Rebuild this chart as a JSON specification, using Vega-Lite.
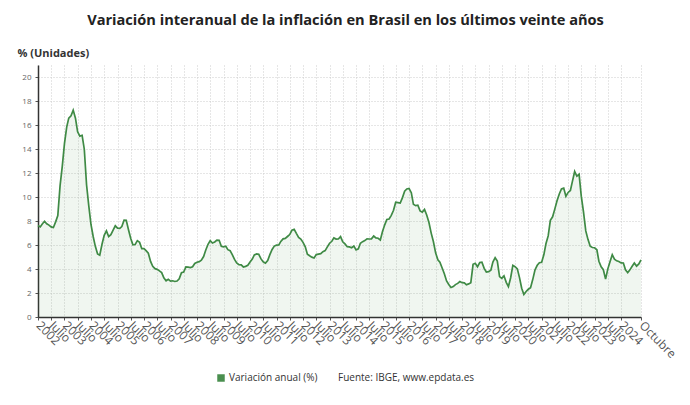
{
  "$schema": "https://vega.github.io/schema/vega-lite/v6.json",
  "width": 603,
  "height": 252,
  "autosize": {"type": "none"},
  "padding": {"left": 38, "top": 65, "right": 49, "bottom": 88},
  "background": "white",
  "title": {
    "text": "Variación interanual de la inflación en Brasil en los últimos veinte años",
    "font": "Open Sans",
    "fontSize": 14.6,
    "fontWeight": "bold",
    "color": "#222222",
    "anchor": "middle",
    "dx": 6,
    "offset": 19
  },
  "config": {
    "view": {"stroke": null},
    "font": "Open Sans"
  },
  "data": {
    "values": [
      {"d":"2002-01-01","v":7.62},{"d":"2002-02-01","v":7.51},{"d":"2002-03-01","v":7.75},{"d":"2002-04-01","v":7.98},{"d":"2002-05-01","v":7.77},{"d":"2002-06-01","v":7.66},{"d":"2002-07-01","v":7.51},{"d":"2002-08-01","v":7.46},{"d":"2002-09-01","v":7.93},{"d":"2002-10-01","v":8.45},{"d":"2002-11-01","v":10.93},{"d":"2002-12-01","v":12.53},
      {"d":"2003-01-01","v":14.47},{"d":"2003-02-01","v":15.85},{"d":"2003-03-01","v":16.57},{"d":"2003-04-01","v":16.77},{"d":"2003-05-01","v":17.24},{"d":"2003-06-01","v":16.57},{"d":"2003-07-01","v":15.43},{"d":"2003-08-01","v":15.07},{"d":"2003-09-01","v":15.14},{"d":"2003-10-01","v":13.98},{"d":"2003-11-01","v":11.02},{"d":"2003-12-01","v":9.30},
      {"d":"2004-01-01","v":7.71},{"d":"2004-02-01","v":6.69},{"d":"2004-03-01","v":5.89},{"d":"2004-04-01","v":5.26},{"d":"2004-05-01","v":5.15},{"d":"2004-06-01","v":6.06},{"d":"2004-07-01","v":6.81},{"d":"2004-08-01","v":7.18},{"d":"2004-09-01","v":6.71},{"d":"2004-10-01","v":6.86},{"d":"2004-11-01","v":7.24},{"d":"2004-12-01","v":7.60},
      {"d":"2005-01-01","v":7.41},{"d":"2005-02-01","v":7.39},{"d":"2005-03-01","v":7.54},{"d":"2005-04-01","v":8.07},{"d":"2005-05-01","v":8.05},{"d":"2005-06-01","v":7.27},{"d":"2005-07-01","v":6.57},{"d":"2005-08-01","v":6.02},{"d":"2005-09-01","v":6.04},{"d":"2005-10-01","v":6.36},{"d":"2005-11-01","v":6.22},{"d":"2005-12-01","v":5.69},
      {"d":"2006-01-01","v":5.70},{"d":"2006-02-01","v":5.51},{"d":"2006-03-01","v":5.32},{"d":"2006-04-01","v":4.63},{"d":"2006-05-01","v":4.23},{"d":"2006-06-01","v":4.03},{"d":"2006-07-01","v":3.97},{"d":"2006-08-01","v":3.84},{"d":"2006-09-01","v":3.70},{"d":"2006-10-01","v":3.26},{"d":"2006-11-01","v":3.02},{"d":"2006-12-01","v":3.14},
      {"d":"2007-01-01","v":2.99},{"d":"2007-02-01","v":3.02},{"d":"2007-03-01","v":2.96},{"d":"2007-04-01","v":3.00},{"d":"2007-05-01","v":3.18},{"d":"2007-06-01","v":3.69},{"d":"2007-07-01","v":3.74},{"d":"2007-08-01","v":4.18},{"d":"2007-09-01","v":4.15},{"d":"2007-10-01","v":4.12},{"d":"2007-11-01","v":4.19},{"d":"2007-12-01","v":4.46},
      {"d":"2008-01-01","v":4.56},{"d":"2008-02-01","v":4.61},{"d":"2008-03-01","v":4.73},{"d":"2008-04-01","v":5.04},{"d":"2008-05-01","v":5.58},{"d":"2008-06-01","v":6.06},{"d":"2008-07-01","v":6.37},{"d":"2008-08-01","v":6.17},{"d":"2008-09-01","v":6.25},{"d":"2008-10-01","v":6.41},{"d":"2008-11-01","v":6.39},{"d":"2008-12-01","v":5.90},
      {"d":"2009-01-01","v":5.84},{"d":"2009-02-01","v":5.90},{"d":"2009-03-01","v":5.61},{"d":"2009-04-01","v":5.53},{"d":"2009-05-01","v":5.20},{"d":"2009-06-01","v":4.80},{"d":"2009-07-01","v":4.50},{"d":"2009-08-01","v":4.36},{"d":"2009-09-01","v":4.34},{"d":"2009-10-01","v":4.17},{"d":"2009-11-01","v":4.22},{"d":"2009-12-01","v":4.31},
      {"d":"2010-01-01","v":4.59},{"d":"2010-02-01","v":4.83},{"d":"2010-03-01","v":5.17},{"d":"2010-04-01","v":5.26},{"d":"2010-05-01","v":5.22},{"d":"2010-06-01","v":4.84},{"d":"2010-07-01","v":4.60},{"d":"2010-08-01","v":4.49},{"d":"2010-09-01","v":4.70},{"d":"2010-10-01","v":5.20},{"d":"2010-11-01","v":5.63},{"d":"2010-12-01","v":5.91},
      {"d":"2011-01-01","v":5.99},{"d":"2011-02-01","v":6.01},{"d":"2011-03-01","v":6.30},{"d":"2011-04-01","v":6.51},{"d":"2011-05-01","v":6.55},{"d":"2011-06-01","v":6.71},{"d":"2011-07-01","v":6.87},{"d":"2011-08-01","v":7.23},{"d":"2011-09-01","v":7.31},{"d":"2011-10-01","v":6.97},{"d":"2011-11-01","v":6.64},{"d":"2011-12-01","v":6.50},
      {"d":"2012-01-01","v":6.22},{"d":"2012-02-01","v":5.85},{"d":"2012-03-01","v":5.24},{"d":"2012-04-01","v":5.10},{"d":"2012-05-01","v":4.99},{"d":"2012-06-01","v":4.92},{"d":"2012-07-01","v":5.20},{"d":"2012-08-01","v":5.24},{"d":"2012-09-01","v":5.28},{"d":"2012-10-01","v":5.45},{"d":"2012-11-01","v":5.53},{"d":"2012-12-01","v":5.84},
      {"d":"2013-01-01","v":6.15},{"d":"2013-02-01","v":6.31},{"d":"2013-03-01","v":6.59},{"d":"2013-04-01","v":6.49},{"d":"2013-05-01","v":6.50},{"d":"2013-06-01","v":6.70},{"d":"2013-07-01","v":6.27},{"d":"2013-08-01","v":6.09},{"d":"2013-09-01","v":5.86},{"d":"2013-10-01","v":5.84},{"d":"2013-11-01","v":5.77},{"d":"2013-12-01","v":5.91},
      {"d":"2014-01-01","v":5.59},{"d":"2014-02-01","v":5.68},{"d":"2014-03-01","v":6.15},{"d":"2014-04-01","v":6.28},{"d":"2014-05-01","v":6.37},{"d":"2014-06-01","v":6.52},{"d":"2014-07-01","v":6.50},{"d":"2014-08-01","v":6.51},{"d":"2014-09-01","v":6.75},{"d":"2014-10-01","v":6.59},{"d":"2014-11-01","v":6.56},{"d":"2014-12-01","v":6.41},
      {"d":"2015-01-01","v":7.14},{"d":"2015-02-01","v":7.70},{"d":"2015-03-01","v":8.13},{"d":"2015-04-01","v":8.17},{"d":"2015-05-01","v":8.47},{"d":"2015-06-01","v":8.89},{"d":"2015-07-01","v":9.56},{"d":"2015-08-01","v":9.53},{"d":"2015-09-01","v":9.49},{"d":"2015-10-01","v":9.93},{"d":"2015-11-01","v":10.48},{"d":"2015-12-01","v":10.67},
      {"d":"2016-01-01","v":10.71},{"d":"2016-02-01","v":10.36},{"d":"2016-03-01","v":9.39},{"d":"2016-04-01","v":9.28},{"d":"2016-05-01","v":9.32},{"d":"2016-06-01","v":8.84},{"d":"2016-07-01","v":8.74},{"d":"2016-08-01","v":8.97},{"d":"2016-09-01","v":8.48},{"d":"2016-10-01","v":7.87},{"d":"2016-11-01","v":6.99},{"d":"2016-12-01","v":6.29},
      {"d":"2017-01-01","v":5.35},{"d":"2017-02-01","v":4.76},{"d":"2017-03-01","v":4.57},{"d":"2017-04-01","v":4.08},{"d":"2017-05-01","v":3.60},{"d":"2017-06-01","v":3.00},{"d":"2017-07-01","v":2.71},{"d":"2017-08-01","v":2.46},{"d":"2017-09-01","v":2.54},{"d":"2017-10-01","v":2.70},{"d":"2017-11-01","v":2.80},{"d":"2017-12-01","v":2.95},
      {"d":"2018-01-01","v":2.86},{"d":"2018-02-01","v":2.84},{"d":"2018-03-01","v":2.68},{"d":"2018-04-01","v":2.76},{"d":"2018-05-01","v":2.86},{"d":"2018-06-01","v":4.39},{"d":"2018-07-01","v":4.48},{"d":"2018-08-01","v":4.19},{"d":"2018-09-01","v":4.53},{"d":"2018-10-01","v":4.56},{"d":"2018-11-01","v":4.05},{"d":"2018-12-01","v":3.75},
      {"d":"2019-01-01","v":3.78},{"d":"2019-02-01","v":3.89},{"d":"2019-03-01","v":4.58},{"d":"2019-04-01","v":4.94},{"d":"2019-05-01","v":4.66},{"d":"2019-06-01","v":3.37},{"d":"2019-07-01","v":3.22},{"d":"2019-08-01","v":3.43},{"d":"2019-09-01","v":2.89},{"d":"2019-10-01","v":2.54},{"d":"2019-11-01","v":3.27},{"d":"2019-12-01","v":4.31},
      {"d":"2020-01-01","v":4.19},{"d":"2020-02-01","v":4.01},{"d":"2020-03-01","v":3.30},{"d":"2020-04-01","v":2.40},{"d":"2020-05-01","v":1.88},{"d":"2020-06-01","v":2.13},{"d":"2020-07-01","v":2.31},{"d":"2020-08-01","v":2.44},{"d":"2020-09-01","v":3.14},{"d":"2020-10-01","v":3.92},{"d":"2020-11-01","v":4.31},{"d":"2020-12-01","v":4.52},
      {"d":"2021-01-01","v":4.56},{"d":"2021-02-01","v":5.20},{"d":"2021-03-01","v":6.10},{"d":"2021-04-01","v":6.76},{"d":"2021-05-01","v":8.06},{"d":"2021-06-01","v":8.35},{"d":"2021-07-01","v":8.99},{"d":"2021-08-01","v":9.68},{"d":"2021-09-01","v":10.25},{"d":"2021-10-01","v":10.67},{"d":"2021-11-01","v":10.74},{"d":"2021-12-01","v":10.06},
      {"d":"2022-01-01","v":10.38},{"d":"2022-02-01","v":10.54},{"d":"2022-03-01","v":11.30},{"d":"2022-04-01","v":12.13},{"d":"2022-05-01","v":11.73},{"d":"2022-06-01","v":11.89},{"d":"2022-07-01","v":10.07},{"d":"2022-08-01","v":8.73},{"d":"2022-09-01","v":7.17},{"d":"2022-10-01","v":6.47},{"d":"2022-11-01","v":5.90},{"d":"2022-12-01","v":5.79},
      {"d":"2023-01-01","v":5.77},{"d":"2023-02-01","v":5.60},{"d":"2023-03-01","v":4.65},{"d":"2023-04-01","v":4.18},{"d":"2023-05-01","v":3.94},{"d":"2023-06-01","v":3.16},{"d":"2023-07-01","v":3.99},{"d":"2023-08-01","v":4.61},{"d":"2023-09-01","v":5.19},{"d":"2023-10-01","v":4.82},{"d":"2023-11-01","v":4.68},{"d":"2023-12-01","v":4.62},
      {"d":"2024-01-01","v":4.51},{"d":"2024-02-01","v":4.50},{"d":"2024-03-01","v":3.93},{"d":"2024-04-01","v":3.69},{"d":"2024-05-01","v":3.93},{"d":"2024-06-01","v":4.23},{"d":"2024-07-01","v":4.50},{"d":"2024-08-01","v":4.24},{"d":"2024-09-01","v":4.42},{"d":"2024-10-01","v":4.76}
    ]
  },
  "encoding": {
    "x": {
      "field": "d",
      "type": "temporal",
      "scale": {"type": "utc", "domain": [{"year": 2002, "month": 1, "date": 1, "utc": true}, {"year": 2024, "month": 10, "date": 1, "utc": true}], "nice": false},
      "axis": {
        "title": null,
        "values": [
          {"year":2002,"month":1,"utc":true},{"year":2002,"month":7,"utc":true},
          {"year":2003,"month":1,"utc":true},{"year":2003,"month":7,"utc":true},
          {"year":2004,"month":1,"utc":true},{"year":2004,"month":7,"utc":true},
          {"year":2005,"month":1,"utc":true},{"year":2005,"month":7,"utc":true},
          {"year":2006,"month":1,"utc":true},{"year":2006,"month":7,"utc":true},
          {"year":2007,"month":1,"utc":true},{"year":2007,"month":7,"utc":true},
          {"year":2008,"month":1,"utc":true},{"year":2008,"month":7,"utc":true},
          {"year":2009,"month":1,"utc":true},{"year":2009,"month":7,"utc":true},
          {"year":2010,"month":1,"utc":true},{"year":2010,"month":7,"utc":true},
          {"year":2011,"month":1,"utc":true},{"year":2011,"month":7,"utc":true},
          {"year":2012,"month":1,"utc":true},{"year":2012,"month":7,"utc":true},
          {"year":2013,"month":1,"utc":true},{"year":2013,"month":7,"utc":true},
          {"year":2014,"month":1,"utc":true},{"year":2014,"month":7,"utc":true},
          {"year":2015,"month":1,"utc":true},{"year":2015,"month":7,"utc":true},
          {"year":2016,"month":1,"utc":true},{"year":2016,"month":7,"utc":true},
          {"year":2017,"month":1,"utc":true},{"year":2017,"month":7,"utc":true},
          {"year":2018,"month":1,"utc":true},{"year":2018,"month":7,"utc":true},
          {"year":2019,"month":1,"utc":true},{"year":2019,"month":7,"utc":true},
          {"year":2020,"month":1,"utc":true},{"year":2020,"month":7,"utc":true},
          {"year":2021,"month":1,"utc":true},{"year":2021,"month":7,"utc":true},
          {"year":2022,"month":1,"utc":true},{"year":2022,"month":7,"utc":true},
          {"year":2023,"month":1,"utc":true},{"year":2023,"month":7,"utc":true},
          {"year":2024,"month":1,"utc":true},{"year":2024,"month":10,"utc":true}
        ],
        "labelExpr": "utcmonth(datum.value) == 0 ? utcyear(datum.value) : (utcmonth(datum.value) == 6 ? 'Julio' : 'Octubre')",
        "labelAngle": 45,
        "labelAlign": "left",
        "labelBaseline": "middle",
        "labelFontSize": 12,
        "labelColor": "#555555",
        "labelFont": "Open Sans",
        "labelOverlap": false,
        "labelPadding": 3,
        "tickSize": 3,
        "tickColor": "#555555",
        "domainColor": "#333333",
        "domainWidth": 1.5,
        "grid": true,
        "gridColor": "#cccccc",
        "gridDash": [1, 2],
        "gridWidth": 1
      }
    },
    "y": {
      "field": "v",
      "type": "quantitative",
      "scale": {"domain": [0, 21], "nice": false},
      "axis": {
        "title": "% (Unidades)",
        "titleAngle": 0,
        "titleAlign": "left",
        "titleBaseline": "alphabetic",
        "titleX": -21,
        "titleY": -9,
        "titleFont": "Open Sans",
        "titleFontSize": 11,
        "titleFontWeight": "bold",
        "titleColor": "#333333",
        "values": [0, 2, 4, 6, 8, 10, 12, 14, 16, 18, 20],
        "labelFontSize": 8,
        "labelColor": "#666666",
        "labelFont": "Open Sans",
        "labelPadding": 4,
        "tickSize": 3,
        "tickColor": "#555555",
        "domainColor": "#333333",
        "domainWidth": 1.5,
        "grid": true,
        "gridColor": "#cccccc",
        "gridDash": [1, 2],
        "gridWidth": 1
      }
    }
  },
  "layer": [
    {
      "mark": {"type": "area", "color": "#3d8b40", "fillOpacity": 0.08}
    },
    {
      "mark": {"type": "line", "strokeWidth": 1.7},
      "encoding": {
        "color": {
          "datum": "Variación anual (%)",
          "type": "nominal",
          "scale": {"range": ["#3f8a45"]},
          "legend": {
            "title": "Fuente: IBGE, www.epdata.es",
            "titleOrient": "right",
            "titleFont": "Open Sans",
            "titleFontSize": 10,
            "titleFontWeight": "normal",
            "titleColor": "#333333",
            "titlePadding": 21,
            "labelFont": "Open Sans",
            "labelFontSize": 10,
            "labelColor": "#333333",
            "labelOffset": 3,
            "symbolType": "square",
            "symbolSize": 56,
            "symbolStrokeWidth": 0,
            "orient": "none",
            "legendX": 178,
            "legendY": 308,
            "direction": "horizontal",
            "encode": {
              "symbols": {"update": {"fill": {"value": "#4a8f4f"}, "stroke": {"value": "#4a8f4f"}, "strokeWidth": {"value": 0}}}
            }
          }
        }
      }
    }
  ]
}
